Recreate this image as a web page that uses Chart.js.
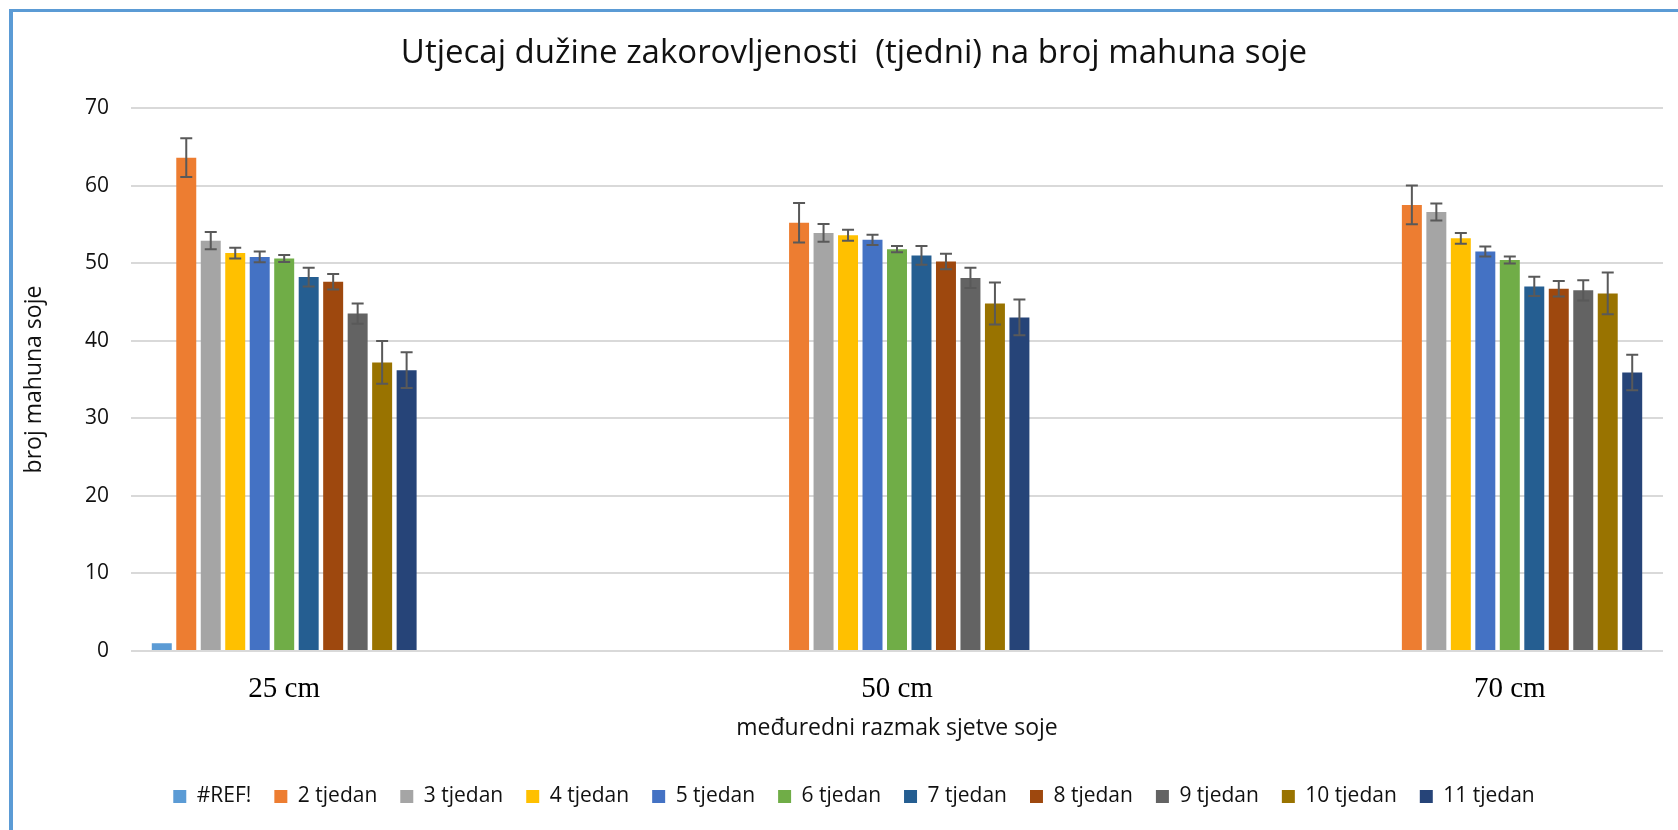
<!DOCTYPE html>
<html>
<head>
<meta charset="utf-8">
<script src="https://cdn.jsdelivr.net/npm/chart.js@4.4.1/dist/chart.umd.min.js"></script>
<style>
  html, body { margin:0; padding:0; background:#fff; overflow:hidden; }
  #frame { position:absolute; left:9px; top:9px; width:1700px; height:900px;
           border-left:4px solid #5B9BD5; border-top:3px solid #5B9BD5; }
  #chart { position:absolute; left:0; top:0; }
</style>
</head>
<body>
<div id="frame"></div>
<canvas id="chart" width="1678" height="830"></canvas>
<script>
// kategorije (prazni stupci između razmaka, kao u izvornoj tablici)
const categories = ['25 cm', '', '50 cm', '', '70 cm'];
const seriesNames = ['#REF!','2 tjedan','3 tjedan','4 tjedan','5 tjedan','6 tjedan','7 tjedan','8 tjedan','9 tjedan','10 tjedan','11 tjedan'];
const seriesColors = ['#5B9BD5','#ED7D31','#A5A5A5','#FFC000','#4472C4','#70AD47','#255E91','#9E480E','#636363','#997300','#264478'];

// broj mahuna po tjednu zakorovljenosti
const wRef = [1,    null, null, null, null];
const w2   = [63.6, null, 55.2, null, 57.5];
const w3   = [52.9, null, 53.9, null, 56.6];
const w4   = [51.3, null, 53.6, null, 53.2];
const w5   = [50.8, null, 53.0, null, 51.5];
const w6   = [50.6, null, 51.8, null, 50.4];
const w7   = [48.2, null, 51.0, null, 47.0];
const w8   = [47.6, null, 50.2, null, 46.7];
const w9   = [43.5, null, 48.1, null, 46.5];
const w10  = [37.2, null, 44.8, null, 46.1];
const w11  = [36.2, null, 43.0, null, 35.9];

// greške (± vrijednost)
const eRef = [null, null, null, null, null];
const e2   = [2.5,  null, 2.55, null, 2.5];
const e3   = [1.1,  null, 1.15, null, 1.1];
const e4   = [0.7,  null, 0.7,  null, 0.7];
const e5   = [0.7,  null, 0.65, null, 0.65];
const e6   = [0.45, null, 0.4,  null, 0.45];
const e7   = [1.2,  null, 1.2,  null, 1.25];
const e8   = [1.0,  null, 1.0,  null, 1.0];
const e9   = [1.3,  null, 1.3,  null, 1.3];
const e10  = [2.75, null, 2.7,  null, 2.7];
const e11  = [2.3,  null, 2.3,  null, 2.3];

const yTicks = [0, 10, 20, 30, 40, 50, 60, 70];

const values = [wRef, w2, w3, w4, w5, w6, w7, w8, w9, w10, w11];
const errors = [eRef, e2, e3, e4, e5, e6, e7, e8, e9, e10, e11];

// error bars plugin - crta preko postojećih stupaca
const errorBars = {
  id: 'errorBars',
  afterDatasetsDraw(chart){
    const ctx = chart.ctx, y = chart.scales.y;
    ctx.save();
    ctx.strokeStyle = '#595959';
    ctx.lineWidth = 2;
    chart.data.datasets.forEach((ds, i) => {
      const meta = chart.getDatasetMeta(i);
      meta.data.forEach((bar, j) => {
        const v = ds.data[j], e = ds.errors[j];
        if (v == null || e == null) return;
        const top = y.getPixelForValue(v + e), bot = y.getPixelForValue(v - e);
        ctx.beginPath();
        ctx.moveTo(bar.x, top); ctx.lineTo(bar.x, bot);
        ctx.moveTo(bar.x - 6, top); ctx.lineTo(bar.x + 6, top);
        ctx.moveTo(bar.x - 6, bot); ctx.lineTo(bar.x + 6, bot);
        ctx.stroke();
      });
    });
    ctx.restore();
  }
};

Chart.defaults.font.family = "'Open Sans', sans-serif";
Chart.defaults.color = '#000';

new Chart(document.getElementById('chart').getContext('2d'), {
  type: 'bar',
  data: {
    labels: categories,
    datasets: seriesNames.map((name, i) => ({
      label: name,
      data: values[i],
      errors: errors[i],
      backgroundColor: seriesColors[i],
      borderWidth: 0,
      categoryPercentage: 0.879,
      barPercentage: 0.816
    }))
  },
  options: {
    responsive: false,
    animation: false,
    layout: { padding: { left: 45, right: 15, top: 0, bottom: 13 } },
    plugins: {
      title: {
        display: true,
        text: 'Utjecaj dužine zakorovljenosti  (tjedni) na broj mahuna soje',
        font: { size: 33, weight: 'normal' },
        color: '#111',
        padding: { top: 33.5, bottom: 34.9 }
      },
      legend: {
        position: 'bottom',
        labels: { boxWidth: 13, boxHeight: 13, padding: 23, font: { size: 21 }, color: '#111' }
      },
      tooltip: { enabled: false }
    },
    scales: {
      x: {
        grid: { display: false },
        border: { display: false },
        ticks: { font: { family: "'Liberation Serif', serif", size: 29 }, padding: 13, color: '#000' },
        title: { display: true, text: 'međuredni razmak sjetve soje', font: { size: 23 }, padding: { top: 0, bottom: 20.5 }, color: '#111' },
        afterFit(s){ s.height = 112; }
      },
      y: {
        min: 0, max: 70,
        afterBuildTicks(s){ s.ticks = yTicks.map(v => ({ value: v })); },
        grid: { color: '#d9d9d9', lineWidth: 2, drawTicks: false },
        border: { display: false },
        ticks: { font: { size: 21 }, padding: 22, color: '#111' },
        title: { display: true, text: 'broj mahuna soje', font: { size: 23 }, padding: { top: -24.8, bottom: 0 }, color: '#111' },
        afterFit(s){ s.width = 86; }
      }
    }
  },
  plugins: [errorBars]
});
</script>
</body>
</html>
